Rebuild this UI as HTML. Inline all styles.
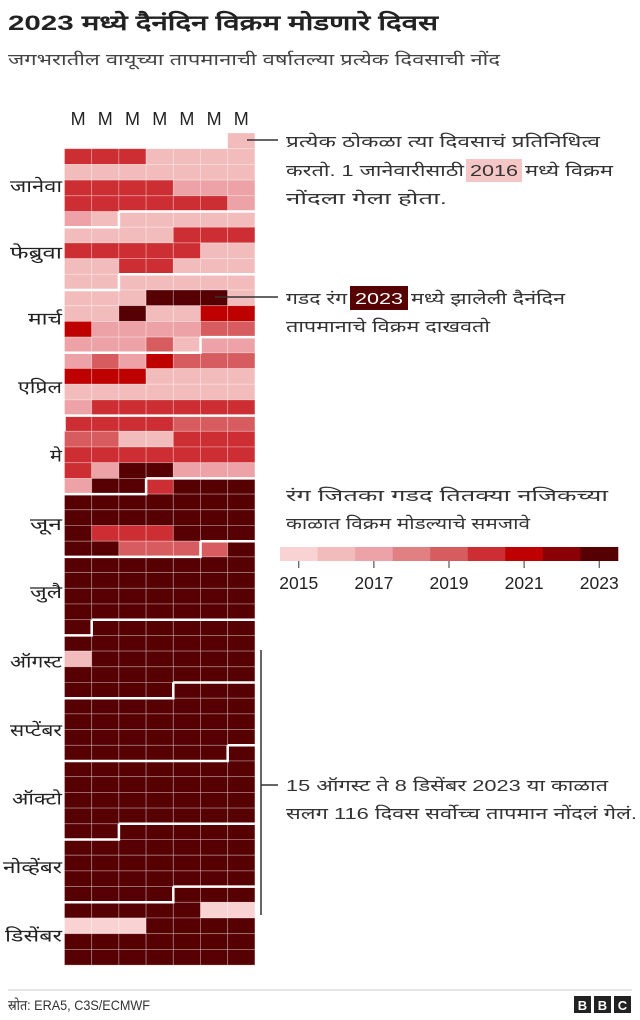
<!DOCTYPE html>
<html><head><meta charset="utf-8">
<style>
body{margin:0;background:#fff;width:640px;height:1020px;overflow:hidden;font-family:"Liberation Sans","Noto Sans CJK SC",sans-serif;color:#222}
svg{position:absolute;left:0;top:0}
</style></head>
<body>
<svg id="chart" width="640" height="1020" font-family="Liberation Sans, Noto Sans CJK SC, sans-serif">
<text x="8" y="30" font-size="21" font-weight="bold" fill="#222" textLength="430" lengthAdjust="spacingAndGlyphs">2023 मध्ये दैनंदिन विक्रम मोडणारे दिवस</text>
<text x="8" y="65" font-size="16" fill="#444" textLength="492" lengthAdjust="spacingAndGlyphs">जगभरातील वायूच्या तापमानाची वर्षातल्या प्रत्येक दिवसाची नोंद</text>
<g id="cells"></g>
<g id="bounds"></g>
<g id="heads"></g>
<g id="months"></g>
<g id="legend"></g>
<g font-size="16" fill="#333">
<line x1="247" y1="140" x2="278" y2="140" stroke="#333" stroke-width="1.5"/>
<text x="286" y="147" textLength="314" lengthAdjust="spacingAndGlyphs">प्रत्येक ठोकळा त्या दिवसाचं प्रतिनिधित्व</text>
<text x="286" y="176" textLength="178" lengthAdjust="spacingAndGlyphs">करतो. 1 जानेवारीसाठी</text>
<rect x="466" y="159" width="56" height="23" fill="#f3bcbc" opacity="0.85"/>
<text x="470" y="176" textLength="48" lengthAdjust="spacingAndGlyphs">2016</text>
<text x="525" y="176" textLength="88" lengthAdjust="spacingAndGlyphs">मध्ये विक्रम</text>
<text x="286" y="204" textLength="161" lengthAdjust="spacingAndGlyphs">नोंदला गेला होता.</text>
</g>
<g font-size="16" fill="#333">
<line x1="215" y1="297" x2="278" y2="297" stroke="#333" stroke-width="1.5"/>
<text x="286" y="304" textLength="61" lengthAdjust="spacingAndGlyphs">गडद रंग</text>
<rect x="350" y="286" width="58" height="24" fill="#560003"/>
<text x="355" y="304" fill="#fff" textLength="48" lengthAdjust="spacingAndGlyphs">2023</text>
<text x="411" y="304" textLength="154" lengthAdjust="spacingAndGlyphs">मध्ये झालेली दैनंदिन</text>
<text x="286" y="332" textLength="204" lengthAdjust="spacingAndGlyphs">तापमानाचे विक्रम दाखवतो</text>
</g>
<text x="286" y="501" font-size="16" fill="#333" textLength="322" lengthAdjust="spacingAndGlyphs">रंग जितका गडद तितक्या नजिकच्या</text>
<text x="286" y="529" font-size="16" fill="#333" textLength="244" lengthAdjust="spacingAndGlyphs">काळात विक्रम मोडल्याचे समजावे</text>
<g font-size="16" fill="#333">
<line x1="261" y1="650" x2="261" y2="915" stroke="#333" stroke-width="1.5"/>
<line x1="261" y1="785" x2="278" y2="785" stroke="#333" stroke-width="1.5"/>
<text x="286" y="791" textLength="322" lengthAdjust="spacingAndGlyphs">15 ऑगस्ट ते 8 डिसेंबर 2023 या काळात</text>
<text x="286" y="819" textLength="351" lengthAdjust="spacingAndGlyphs">सलग 116 दिवस सर्वोच्च तापमान नोंदलं गेलं.</text>
</g>
<line x1="8" y1="990" x2="632" y2="990" stroke="#ccc"/>
<text x="8" y="1010" font-size="14" fill="#333" textLength="142" lengthAdjust="spacingAndGlyphs">स्रोत: ERA5, C3S/ECMWF</text>
<g>
<rect x="574" y="996" width="17" height="17" fill="#222"/><text x="582.5" y="1010" font-size="13" font-weight="bold" fill="#fff" text-anchor="middle">B</text>
<rect x="594" y="996" width="17" height="17" fill="#222"/><text x="602.5" y="1010" font-size="13" font-weight="bold" fill="#fff" text-anchor="middle">B</text>
<rect x="614" y="996" width="17" height="17" fill="#222"/><text x="622.5" y="1010" font-size="13" font-weight="bold" fill="#fff" text-anchor="middle">C</text>
</g>
</svg>
<script>
const years=[2015,2016,2017,2018,2019,2020,2021,2022,2023];
const palette=["#f9d3d3","#f3bcbc","#eca2a6","#e08083","#d65c5f","#cc2e33","#bf0000","#8a0005","#560003"];
const weekdayLabels=["M","M","M","M","M","M","M"];
const monthNames=["जानेवा","फेब्रुवा","मार्च","एप्रिल","मे","जून","जुलै","ऑगस्ट","सप्टेंबर","ऑक्टो","नोव्हेंबर","डिसेंबर"];
const monthLabelWidths=[52,52,34,44,12,32,32,52,52,50,59,57];
const monthLengths=[31,28,31,30,31,30,31,31,30,31,30,31];
const legendTicks=[2015,2017,2019,2021,2023];
const weekRows=[
[null,null,null,null,null,null,1],
[5,5,5,1,1,1,1],[1,1,1,1,1,1,1],[5,5,5,5,2,2,2],[5,5,5,5,5,5,2],
[2,1,1,1,1,1,1],[1,1,1,1,5,5,5],[5,5,5,5,5,1,1],[1,1,5,5,1,1,1],
[1,1,1,1,1,1,1],[1,1,1,8,8,8,1],[1,1,8,1,1,6,6],[6,2,2,2,2,4,4],
[2,2,2,4,1,2,2],[2,4,2,6,4,4,4],[6,6,6,1,1,1,1],[1,1,1,1,1,1,1],
[2,5,5,5,5,5,5],[5,5,5,5,4,4,4],[4,4,1,1,5,5,5],[5,5,5,5,5,5,5],
[5,2,8,8,2,2,2],[2,8,8,5,8,8,8],[8,8,8,8,8,8,8],[8,8,8,8,8,8,8],
[8,5,5,5,8,8,8],[8,8,4,4,4,4,8],[8,8,8,8,8,8,8],[8,8,8,8,8,8,8],
[8,8,8,8,8,8,8],[8,8,8,8,8,8,8],[8,8,8,8,8,8,8],[8,8,8,8,8,8,8],
[1,8,8,8,8,8,8],[8,8,8,8,8,8,8],[8,8,8,8,8,8,8],[8,8,8,8,8,8,8],
[8,8,8,8,8,8,8],[8,8,8,8,8,8,8],[8,8,8,8,8,8,8],[8,8,8,8,8,8,8],
[8,8,8,8,8,8,8],[8,8,8,8,8,8,8],[8,8,8,8,8,8,8],[8,8,8,8,8,8,8],
[8,8,8,8,8,8,8],[8,8,8,8,8,8,8],[8,8,8,8,8,8,8],[8,8,8,8,8,8,8],
[8,8,8,8,8,0,0],[0,0,0,8,8,8,8],[8,8,8,8,8,8,8],[8,8,8,8,8,8,8]
];
const NS="http://www.w3.org/2000/svg";
const X0=64.5,CW=27.2,Y0=133,RH=15.7,START=6;
const xs=c=>X0+c*CW, ys=r=>Y0+r*RH;
function mk(t,a,p){const e=document.createElementNS(NS,t);for(const k in a)e.setAttribute(k,a[k]);p.appendChild(e);return e;}
const gc=document.getElementById('cells');
weekRows.forEach((row,r)=>row.forEach((v,c)=>{
  if(v===null)return;
  const e=mk('rect',{x:xs(c),y:ys(r),width:CW,height:RH,fill:palette[v],stroke:"#fff","stroke-opacity":0.35,"stroke-width":0.8},gc);
  
  
}));
const gh=document.getElementById('heads');
weekdayLabels.forEach((l,c)=>{
  const t=mk('text',{x:xs(c)+CW/2,y:125,"font-size":18,"text-anchor":"middle",fill:"#222"},gh);t.textContent=l;
  
  
});
const gb=document.getElementById('bounds'),gm=document.getElementById('months');
let doy=0;
monthLengths.forEach((len,m)=>{
  const i=doy+START,r=Math.floor(i/7),c=i%7;
  if(m>0){
    const p=mk('path',{d:`M${xs(c)},${ys(r)}H${xs(7)}M${xs(c)},${ys(r)}V${ys(r+1)}H${xs(0)}`,stroke:"#fff","stroke-width":2.5,fill:"none"},gb);
    
    
  }
  const mid=(i+len/2)/7;
  const w=monthLabelWidths[m];
  const t=mk('text',{x:62-w,y:ys(mid)+11,"font-size":17,fill:"#222",textLength:w,lengthAdjust:"spacingAndGlyphs"},gm);t.textContent=monthNames[m];
  
  
  doy+=len;
});
const gl=document.getElementById('legend');
const LX=280,LW=338/years.length;
years.forEach((y,k)=>{
  const e=mk('rect',{x:LX+k*LW,y:547,width:LW+0.3,height:14,fill:palette[k]},gl);
  
  
});
legendTicks.forEach(y=>{
  const k=years.indexOf(y),cx=LX+(k+0.5)*LW;
  mk('line',{x1:cx,y1:561,x2:cx,y2:568,stroke:"#333"},gl);
  const t=mk('text',{x:cx,y:589,"font-size":17.5,"text-anchor":"middle",fill:"#222"},gl);t.textContent=y;
  
  
});
</script>
</body></html>
